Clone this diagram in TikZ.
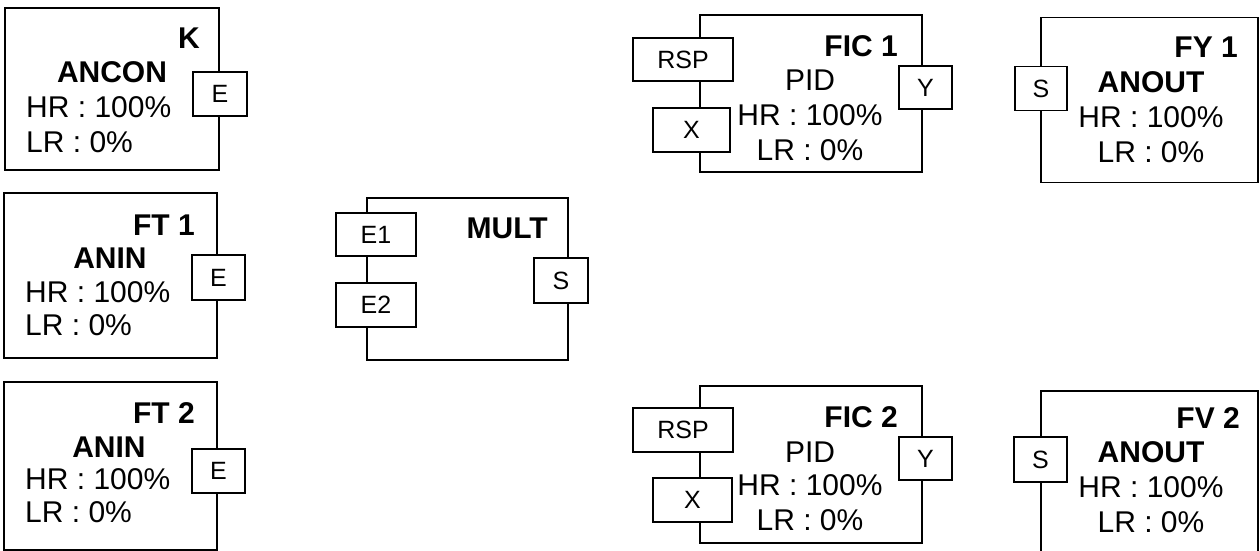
\documentclass[tikz,border=0pt]{standalone}
\usepackage{fontspec}
\setmainfont{Liberation Sans}
\newcommand\mtxt{\fontsize{30}{33}\selectfont}
\newcommand\ptxt{\fontsize{25}{28}\selectfont}
\begin{document}
\begin{tikzpicture}[x=1pt,y=-1pt,
  blk/.style={draw, line width=1.6pt, inner sep=0pt},
  port/.style={draw, fill=white, line width=1.6pt, inner sep=0pt, font=\ptxt},
  ttl/.style={inner sep=0pt, font=\mtxt\bfseries},
  txt/.style={inner sep=0pt, font=\mtxt}]
\useasboundingbox (0,0) rectangle (1260,551);
\fill[white] (0,0) rectangle (1260,551);

% --- ANCON K
\node[blk, minimum width=214pt, minimum height=162pt] (kb) at (112,89) {};
\node[port, minimum width=54pt, minimum height=44pt] (ke) at (220,94) {E};
\node[ttl, anchor=east] (kt) at (200,38) {K};
\node[ttl] (kf) at (112,72) {ANCON};
\node[txt, anchor=west] (kh) at (26,107) {HR : 100\%};
\node[txt, anchor=west] (kl) at (26,142) {LR : 0\%};

% --- FT 1
\node[blk, minimum width=213pt, minimum height=165pt] (f1b) at (110.5,275.5) {};
\node[port, minimum width=53pt, minimum height=45pt] (f1e) at (218.5,277.5) {E};
\node[ttl, anchor=east] (f1t) at (195,225) {FT 1};
\node[ttl] (f1f) at (110,258) {ANIN};
\node[txt, anchor=west] (f1h) at (25,292) {HR : 100\%};
\node[txt, anchor=west] (f1l) at (25,325) {LR : 0\%};

% --- FT 2
\node[blk, minimum width=213pt, minimum height=168pt] (f2b) at (110.5,466) {};
\node[port, minimum width=53pt, minimum height=44pt] (f2e) at (218.5,471) {E};
\node[ttl, anchor=east] (f2t) at (195,413) {FT 2};
\node[ttl] (f2f) at (109,447) {ANIN};
\node[txt, anchor=west] (f2h) at (25,479) {HR : 100\%};
\node[txt, anchor=west] (f2l) at (25,512) {LR : 0\%};

% --- MULT
\node[blk, minimum width=201pt, minimum height=162pt] (mb) at (467.5,279) {};
\node[port, minimum width=80pt, minimum height=43pt] (me1) at (376,234.5) {E1};
\node[port, minimum width=80pt, minimum height=44pt] (me2) at (376,305) {E2};
\node[port, minimum width=54pt, minimum height=45pt] (ms) at (561,280.5) {S};
\node[ttl, anchor=east] (mt) at (548,228) {MULT};

% --- FIC 1
\node[blk, minimum width=222pt, minimum height=157pt] (c1b) at (811,93.5) {};
\node[port, minimum width=100pt, minimum height=43pt] (c1r) at (683,59.5) {RSP};
\node[port, minimum width=77pt, minimum height=44pt] (c1x) at (691.5,130) {X};
\node[port, minimum width=53pt, minimum height=43pt] (c1y) at (925.5,87.5) {Y};
\node[ttl, anchor=east] (c1t) at (898,46) {FIC 1};
\node[txt] (c1f) at (810,80) {PID};
\node[txt] (c1h) at (810,115) {HR : 100\%};
\node[txt] (c1l) at (810,150) {LR : 0\%};

% --- FIC 2
\node[blk, minimum width=222pt, minimum height=157pt] (c2b) at (811,464.5) {};
\node[port, minimum width=100pt, minimum height=44pt] (c2r) at (683,430) {RSP};
\node[port, minimum width=79pt, minimum height=44pt] (c2x) at (692.5,500) {X};
\node[port, minimum width=53pt, minimum height=43pt] (c2y) at (925.5,458.5) {Y};
\node[ttl, anchor=east] (c2t) at (898,417) {FIC 2};
\node[txt] (c2f) at (810,452) {PID};
\node[txt] (c2h) at (810,485) {HR : 100\%};
\node[txt] (c2l) at (810,520) {LR : 0\%};

% --- FY 1
\node[blk, minimum width=217pt, minimum height=165pt] (y1b) at (1149.5,100) {};
\node[port, minimum width=52pt, minimum height=44pt] (y1s) at (1041,88.5) {S};
\node[ttl, anchor=east] (y1t) at (1238,47) {FY 1};
\node[ttl] (y1f) at (1151,82) {ANOUT};
\node[txt] (y1h) at (1151,117) {HR : 100\%};
\node[txt] (y1l) at (1151,152) {LR : 0\%};

% --- FV 2
\node[blk, minimum width=217pt, minimum height=220pt] (v2b) at (1149.5,501) {};
\node[port, minimum width=53pt, minimum height=45pt] (v2s) at (1040.5,459.5) {S};
\node[ttl, anchor=east] (v2t) at (1240,418) {FV 2};
\node[ttl] (v2f) at (1151,452) {ANOUT};
\node[txt] (v2h) at (1151,487) {HR : 100\%};
\node[txt] (v2l) at (1151,522) {LR : 0\%};
\end{tikzpicture}
\end{document}
